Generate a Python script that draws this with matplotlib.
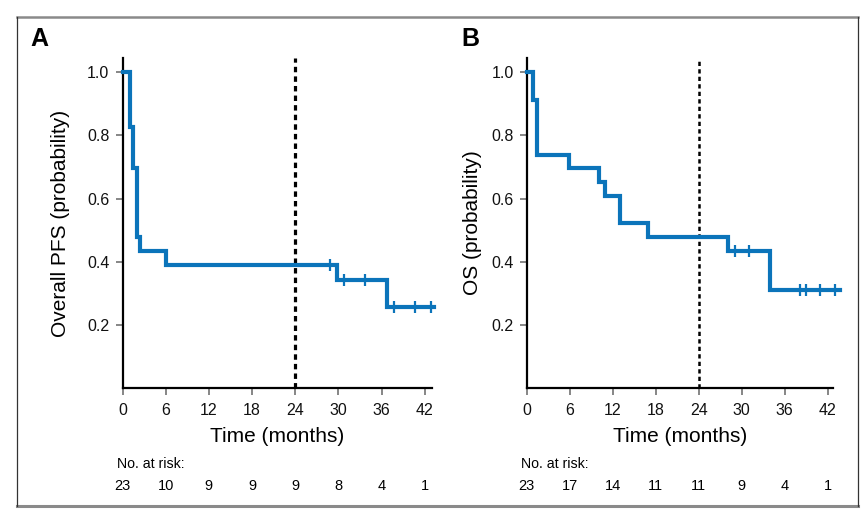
import numpy as np
import matplotlib
matplotlib.use("Agg")
import matplotlib.pyplot as plt
from matplotlib.lines import Line2D
from matplotlib.transforms import blended_transform_factory

plt.rcParams["font.family"] = ["Liberation Sans", "DejaVu Sans"]

# ---------------------------------
# Data
# ---------------------------------
pfs_time = [0, 1.0, 1.5, 2.0, 2.5, 6.1, 29.8, 36.7, 43.3]
pfs_surv = [1.0, 0.826, 0.696, 0.478, 0.435, 0.391, 0.342, 0.257, 0.257]
pfs_cens_time = [28.8, 30.8, 33.7, 37.7, 40.7, 42.8]
pfs_cens_surv = [0.391, 0.342, 0.342, 0.257, 0.257, 0.257]

os_time = [0, 0.93, 1.4, 5.9, 10.1, 11.0, 13.0, 17.0, 28.1, 34.0, 43.8]
os_surv = [1.0, 0.913, 0.739, 0.696, 0.652, 0.609, 0.522, 0.478, 0.435, 0.311, 0.311]
os_cens_time = [29.1, 31.0, 33.9, 38.1, 39.05, 41.0, 43.0]
os_cens_surv = [0.435, 0.435, 0.372, 0.311, 0.311, 0.311, 0.311]

risk_times = [0, 6, 12, 18, 24, 30, 36, 42]
pfs_at_risk = [23, 10, 9, 9, 9, 8, 4, 1]
os_at_risk = [23, 17, 14, 11, 11, 9, 4, 1]

y_ticks = [0.2, 0.4, 0.6, 0.8, 1.0]
landmark = 24

BLUE = "#0B74BA"
W, H = 864, 516

# ---------------------------------
# Figure
# ---------------------------------
fig = plt.figure(figsize=(W / 100, H / 100), dpi=100)


def px(x, y):
    return x / W, 1 - y / H


panels = [
    dict(left=122.5, width=309.5, xmax=43.0, letter="A", letter_x=39,
         ylabel="Overall PFS (probability)", ylabel_x=60,
         t=pfs_time, s=pfs_surv, ct=pfs_cens_time, cs=pfs_cens_surv,
         risk=pfs_at_risk, dash_lw=2.3),
    dict(left=526.7, width=306.6, xmax=42.8, letter="B", letter_x=470,
         ylabel="OS (probability)", ylabel_x=472,
         t=os_time, s=os_surv, ct=os_cens_time, cs=os_cens_surv,
         risk=os_at_risk, dash_lw=1.8),
]

top, bottom = 58, 388

for p in panels:
    ax = fig.add_axes([p["left"] / W, 1 - bottom / H, p["width"] / W, (bottom - top) / H])
    ax.set_xlim(0, p["xmax"])
    ax.set_ylim(0, 1.045)

    ax.step(p["t"], p["s"], where="post", color=BLUE, lw=3, clip_on=False,
            solid_joinstyle="miter", zorder=3)
    ax.plot(p["ct"], p["cs"], ls="none", marker="|", ms=8, mew=1.6,
            color=BLUE, clip_on=False, zorder=4)
    ax.axvline(landmark, color="black", lw=p["dash_lw"],
               ls=(0, (1.7, 1.3)), zorder=2)

    for side in ["top", "right"]:
        ax.spines[side].set_visible(False)
    for side in ["left", "bottom"]:
        ax.spines[side].set_linewidth(1.6)
        ax.spines[side].set_color("black")

    ax.set_xticks(risk_times)
    ax.set_yticks(y_ticks)
    ax.set_yticklabels([f"{v:.1f}" for v in y_ticks])
    ax.tick_params(axis="x", length=5, width=1.1, color="#666666",
                   pad=6, labelsize=11.5, labelcolor="#111111")
    ax.tick_params(axis="y", length=5, width=1.1, color="#666666",
                   pad=4.5, labelsize=11.5, labelcolor="#111111")

    cx = (p["left"] + p["width"] / 2)
    fig.text(*px(cx, 437), "Time (months)", ha="center", va="center", fontsize=15)
    fig.text(*px(p["ylabel_x"], 223), p["ylabel"], ha="center", va="center",
             rotation=90, fontsize=15)
    fig.text(*px(p["letter_x"], 38.5), p["letter"], ha="center", va="center",
             fontsize=18, fontweight="bold")
    fig.text(*px(p["left"] - 5.5, 464), "No. at risk:", ha="left", va="center",
             fontsize=10.2)

    trans = blended_transform_factory(ax.transData, fig.transFigure)
    for t, n in zip(risk_times, p["risk"]):
        ax.text(t, 1 - 486.5 / H, str(n), transform=trans, ha="center",
                va="center", fontsize=10.5, clip_on=False)

# ---------------------------------
# Outer frame
# ---------------------------------
l, r, tp, bt = 17, 858, 17, 506
fig.add_artist(Line2D([l / W, r / W], [1 - tp / H] * 2, color="#8a8a8a", lw=1.8))
fig.add_artist(Line2D([l / W, r / W], [1 - bt / H] * 2, color="#8a8a8a", lw=2.2))
fig.add_artist(Line2D([l / W] * 2, [1 - tp / H, 1 - bt / H], color="#333333", lw=0.9))
fig.add_artist(Line2D([r / W] * 2, [1 - tp / H, 1 - bt / H], color="#333333", lw=0.9))

fig.savefig("out.png", dpi=100)
